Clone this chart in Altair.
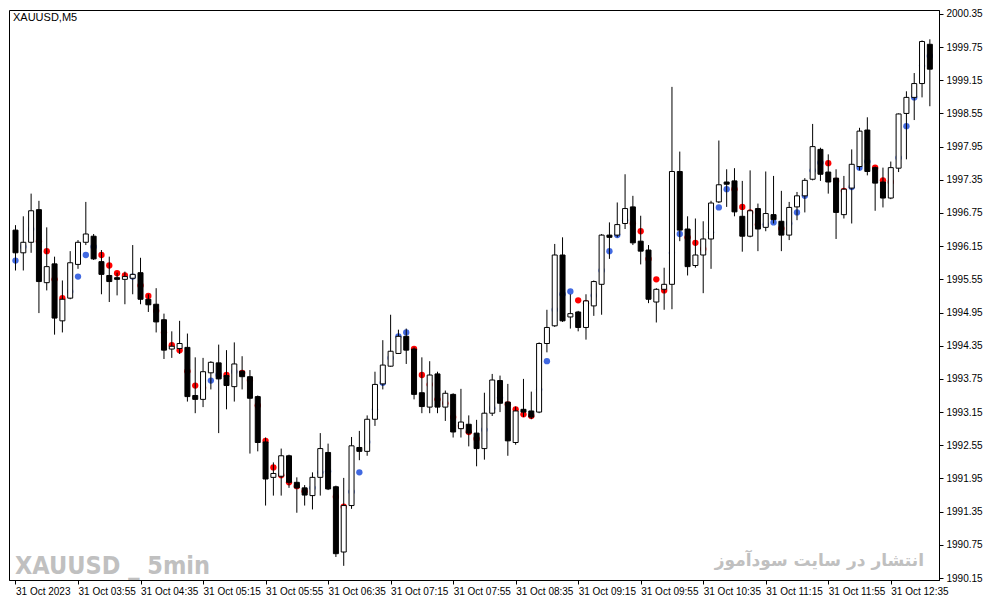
import altair as alt
import pandas as pd

# XAUUSD M5 candles, 31 Oct 2023
opens = [1996.44, 1996.03, 1996.22, 1996.81, 1995.49, 1995.83, 1994.80, 1995.21, 1995.82, 1996.22,
         1996.33, 1995.87, 1995.62, 1995.58, 1995.55, 1995.57, 1995.67, 1995.19, 1995.10, 1994.82,
         1994.29, 1994.30, 1994.32, 1993.45, 1993.38, 1993.86, 1994.04, 1993.81, 1993.61, 1993.89,
         1993.79, 1993.43, 1992.61, 1991.97, 1991.99, 1992.36, 1991.88, 1991.78, 1991.64, 1991.97,
         1992.42, 1991.80, 1990.62, 1991.46, 1992.51, 1992.44, 1993.02, 1993.66, 1993.98, 1994.21,
         1994.52, 1994.29, 1993.50, 1993.24, 1993.84, 1993.24, 1993.47, 1992.85, 1992.93, 1992.77,
         1992.49, 1993.13, 1993.72, 1993.33, 1992.60, 1993.20, 1993.17, 1993.15, 1994.39, 1994.71,
         1995.99, 1994.87, 1994.96, 1994.68, 1995.07, 1995.46, 1996.35, 1996.35, 1996.56, 1996.86,
         1996.24, 1996.08, 1995.14, 1995.37, 1995.46, 1997.50, 1996.46, 1995.80, 1995.99, 1996.28,
         1996.95, 1997.31, 1997.33, 1996.69, 1996.33, 1996.83, 1996.49, 1996.72, 1996.60, 1996.35,
         1996.86, 1997.06, 1997.36, 1997.90, 1997.49, 1997.38, 1996.72, 1997.20, 1997.59, 1998.25,
         1997.57, 1997.31, 1997.02, 1997.56, 1998.55, 1998.84, 1999.09, 1999.80]
highs = [1996.53, 1996.69, 1997.10, 1996.97, 1996.49, 1995.96, 1995.53, 1996.06, 1996.26, 1996.95,
         1996.37, 1996.08, 1995.96, 1995.67, 1995.69, 1996.17, 1995.94, 1995.28, 1995.39, 1994.93,
         1994.61, 1994.80, 1994.57, 1994.14, 1994.13, 1994.07, 1994.37, 1994.27, 1994.41, 1994.16,
         1993.91, 1993.45, 1992.69, 1992.24, 1992.49, 1992.38, 1991.97, 1991.83, 1992.06, 1992.77,
         1992.58, 1991.82, 1991.96, 1992.70, 1992.81, 1993.09, 1993.88, 1994.45, 1994.91, 1994.64,
         1994.66, 1994.32, 1994.14, 1994.07, 1993.88, 1993.54, 1993.49, 1993.57, 1993.09, 1993.01,
         1993.50, 1993.84, 1993.81, 1993.66, 1993.25, 1993.75, 1993.52, 1994.41, 1995.00, 1996.19,
         1996.31, 1995.28, 1994.98, 1995.28, 1995.53, 1996.37, 1996.58, 1996.94, 1997.45, 1997.06,
         1996.70, 1996.17, 1995.39, 1995.76, 1999.03, 1997.86, 1996.69, 1996.65, 1996.60, 1996.97,
         1998.06, 1997.54, 1997.56, 1997.33, 1997.52, 1996.92, 1997.50, 1997.42, 1997.15, 1996.95,
         1997.13, 1997.38, 1998.36, 1997.93, 1997.81, 1997.54, 1997.42, 1997.90, 1998.29, 1998.48,
         1997.59, 1997.57, 1997.68, 1998.55, 1998.95, 1999.28, 1999.87, 1999.89]
lows = [1995.71, 1995.71, 1996.03, 1994.94, 1995.35, 1994.55, 1994.59, 1995.19, 1995.74, 1996.17,
        1995.90, 1995.28, 1995.14, 1995.26, 1995.10, 1995.28, 1995.10, 1994.96, 1994.59, 1994.11,
        1994.13, 1994.20, 1993.34, 1993.13, 1993.24, 1993.56, 1992.77, 1993.20, 1993.34, 1993.56,
        1992.40, 1992.44, 1991.46, 1991.64, 1991.64, 1991.78, 1991.33, 1991.46, 1991.39, 1991.64,
        1991.74, 1990.53, 1990.37, 1991.40, 1992.28, 1992.36, 1992.90, 1993.56, 1993.97, 1994.20,
        1994.02, 1993.38, 1993.13, 1993.13, 1993.13, 1992.99, 1992.69, 1992.69, 1992.53, 1992.17,
        1992.29, 1993.08, 1993.15, 1992.36, 1992.56, 1993.06, 1993.02, 1993.13, 1994.23, 1994.69,
        1994.78, 1994.66, 1994.61, 1994.46, 1994.89, 1994.91, 1995.92, 1996.31, 1996.46, 1996.17,
        1995.82, 1995.12, 1994.77, 1995.00, 1995.01, 1996.24, 1995.62, 1995.76, 1995.30, 1995.74,
        1996.93, 1996.86, 1996.69, 1996.05, 1996.31, 1996.06, 1996.42, 1996.56, 1996.06, 1996.26,
        1996.62, 1996.76, 1997.34, 1997.33, 1997.10, 1996.28, 1996.65, 1996.56, 1997.52, 1997.43,
        1996.79, 1996.85, 1997.00, 1997.49, 1997.72, 1998.43, 1998.84, 1998.68]
closes = [1996.03, 1996.22, 1996.79, 1995.51, 1995.78, 1994.85, 1995.19, 1995.85, 1996.22, 1996.37,
          1995.92, 1995.64, 1995.51, 1995.55, 1995.60, 1995.64, 1995.19, 1995.09, 1994.78, 1994.27,
          1994.34, 1994.39, 1993.43, 1993.38, 1993.88, 1994.05, 1993.75, 1993.63, 1994.02, 1993.79,
          1993.40, 1992.60, 1991.94, 1992.04, 1992.36, 1991.88, 1991.78, 1991.65, 1991.97, 1992.49,
          1991.76, 1990.59, 1991.46, 1992.54, 1992.44, 1993.02, 1993.65, 1994.00, 1994.25, 1994.52,
          1994.27, 1993.47, 1993.25, 1993.82, 1993.24, 1993.49, 1992.79, 1992.97, 1992.77, 1992.49,
          1993.13, 1993.73, 1993.31, 1992.63, 1993.17, 1993.15, 1993.06, 1994.39, 1994.68, 1995.99,
          1994.80, 1994.93, 1994.68, 1995.16, 1995.51, 1996.35, 1996.31, 1996.54, 1996.83, 1996.21,
          1996.06, 1995.19, 1995.37, 1995.46, 1997.50, 1996.44, 1995.78, 1995.99, 1996.28, 1996.93,
          1997.26, 1997.27, 1996.77, 1996.33, 1996.79, 1996.46, 1996.74, 1996.63, 1996.35, 1996.85,
          1997.06, 1997.34, 1997.95, 1997.45, 1997.31, 1996.76, 1997.18, 1997.63, 1998.23, 1997.50,
          1997.29, 1997.02, 1997.57, 1998.54, 1998.84, 1999.09, 1999.85, 1999.35]

# indicator dots: level and side (b = blue, r = red)
signal = [1995.89, 1996.14, 1996.46, 1996.24, 1996.06, 1995.55, 1995.21, 1995.33, 1995.60, 1995.99,
          1996.14, 1995.99, 1995.80, 1995.66, 1995.62, 1995.60, 1995.44, 1995.25, 1994.98, 1994.59,
          1994.36, 1994.27, 1993.89, 1993.63, 1993.59, 1993.72, 1993.82, 1993.82, 1993.88, 1993.86,
          1993.73, 1993.27, 1992.63, 1992.15, 1992.01, 1991.88, 1991.81, 1991.72, 1991.78, 1992.06,
          1992.08, 1991.62, 1991.44, 1991.71, 1992.06, 1992.61, 1993.20, 1993.68, 1994.13, 1994.52,
          1994.59, 1994.29, 1993.82, 1993.65, 1993.38, 1993.31, 1993.06, 1992.90, 1992.79, 1992.67,
          1992.83, 1993.22, 1993.41, 1993.29, 1993.20, 1993.11, 1993.08, 1993.56, 1994.07, 1995.00,
          1995.28, 1995.33, 1995.17, 1995.12, 1995.26, 1995.71, 1996.06, 1996.35, 1996.62, 1996.56,
          1996.42, 1995.92, 1995.55, 1995.35, 1996.03, 1996.37, 1996.31, 1996.21, 1996.10, 1996.40,
          1996.85, 1997.18, 1997.18, 1996.86, 1996.76, 1996.54, 1996.54, 1996.58, 1996.47, 1996.56,
          1996.76, 1997.06, 1997.52, 1997.66, 1997.65, 1997.33, 1997.15, 1997.22, 1997.57, 1997.68,
          1997.57, 1997.34, 1997.31, 1997.75, 1998.32, 1998.84, 1999.41, 1999.59]
signal_side = list("bbbrrrrbbb" "brrrrbrrrr" "rrrrrbbrbr" "rrrrrrrrbb"
                   "brrbbbbbbb" "brrrrrrrrr" "bbbrrrrbbb" "bbrrbbbbbr"
                   "rrrrbbrrrb" "bbrrrrbbrb" "bbbbrrrbbb" "rrrbbbbb")

tick_bars = [0, 8, 16, 24, 32, 40, 48, 56, 64, 72, 80, 88, 96, 104, 112]
tick_labels = ['31 Oct 2023', '31 Oct 03:55', '31 Oct 04:35', '31 Oct 05:15', '31 Oct 05:55',
               '31 Oct 06:35', '31 Oct 07:15', '31 Oct 07:55', '31 Oct 08:35', '31 Oct 09:15',
               '31 Oct 09:55', '31 Oct 10:35', '31 Oct 11:15', '31 Oct 11:55', '31 Oct 12:35']
price_ticks = [1990.15, 1990.75, 1991.35, 1991.95, 1992.55, 1993.15, 1993.75, 1994.35, 1994.95,
               1995.55, 1996.15, 1996.75, 1997.35, 1997.95, 1998.55, 1999.15, 1999.75, 2000.35]

df = pd.DataFrame({
    'bar': list(range(len(opens))),
    'open': opens, 'high': highs, 'low': lows, 'close': closes,
    'signal': signal, 'side': signal_side,
})
df['up'] = df['close'] >= df['open']

FONT = 'Liberation Sans'
label_array = '[' + ','.join("'%s'" % t for t in tick_labels) + ']'

x_scale = alt.Scale(domain=[-0.19, 117.53], nice=False, zero=False)
y_scale = alt.Scale(domain=[1990.114, 2000.42], nice=False, zero=False)

x_axis = alt.Axis(
    values=tick_bars, labelExpr=label_array + '[round(datum.value / 8)]',
    labelAlign='left', labelBaseline='top', labelPadding=2, tickSize=4,
    labelFlush=False, labelOverlap=False, title=None,
)
y_axis = alt.Axis(
    orient='right', values=price_ticks, format='.2f', tickSize=4,
    labelPadding=3, labelBaseline='middle', labelFlush=False, labelOverlap=False, title=None,
)


def xenc():
    return alt.X('bar:Q', scale=x_scale, axis=x_axis)


def yenc(field):
    return alt.Y(field, scale=y_scale, axis=y_axis)


base = alt.Chart(df)

dots = base.mark_circle(size=40, opacity=1).encode(
    x=xenc(),
    y=yenc('signal:Q'),
    color=alt.Color('side:N', scale=alt.Scale(domain=['b', 'r'], range=['#4169E1', '#FF0000']),
                    legend=None),
)

wicks = base.mark_rule(color='black', strokeWidth=1).encode(
    x=xenc(),
    y=yenc('low:Q'),
    y2='high:Q',
)

bodies = base.mark_bar(size=5, stroke='black', strokeWidth=1).encode(
    x=xenc(),
    y=yenc('open:Q'),
    y2='close:Q',
    fill=alt.condition('datum.up', alt.value('white'), alt.value('black')),
)

symbol = alt.Chart(pd.DataFrame({'t': ['XAUUSD,M5']})).mark_text(
    align='left', baseline='middle', font=FONT, fontSize=11, color='black'
).encode(text='t:N', x=alt.value(4), y=alt.value(8))

mark_en = alt.Chart(pd.DataFrame({'t': ['XAUUSD _ 5min']})).mark_text(
    align='left', baseline='alphabetic', font='Liberation Sans Narrow, DejaVu Sans Condensed, sans-serif',
    fontSize=25, fontWeight='bold', color='#C0C0C0'
).encode(text='t:N', x=alt.value(6), y=alt.value(564))

mark_fa = alt.Chart(pd.DataFrame({'t': ['انتشار در سایت سودآموز']})).mark_text(
    align='right', baseline='alphabetic', font='DejaVu Sans', fontSize=17,
    fontWeight='bold', color='#C0C0C0'
).encode(text='t:N', x=alt.value(915), y=alt.value(556))

chart = alt.layer(dots, wicks, bodies, symbol, mark_en, mark_fa).properties(
    width=930, height=570,
    padding={'left': 1, 'top': 0, 'right': 0, 'bottom': 0},
    background='white',
).configure_view(
    stroke='black', strokeWidth=1
).configure_axis(
    grid=False, domainColor='black', tickColor='black', labelColor='black',
    labelFont=FONT, labelFontSize=10,
)

chart.save("out.html", embed_options={"renderer": "svg", "actions": False})
